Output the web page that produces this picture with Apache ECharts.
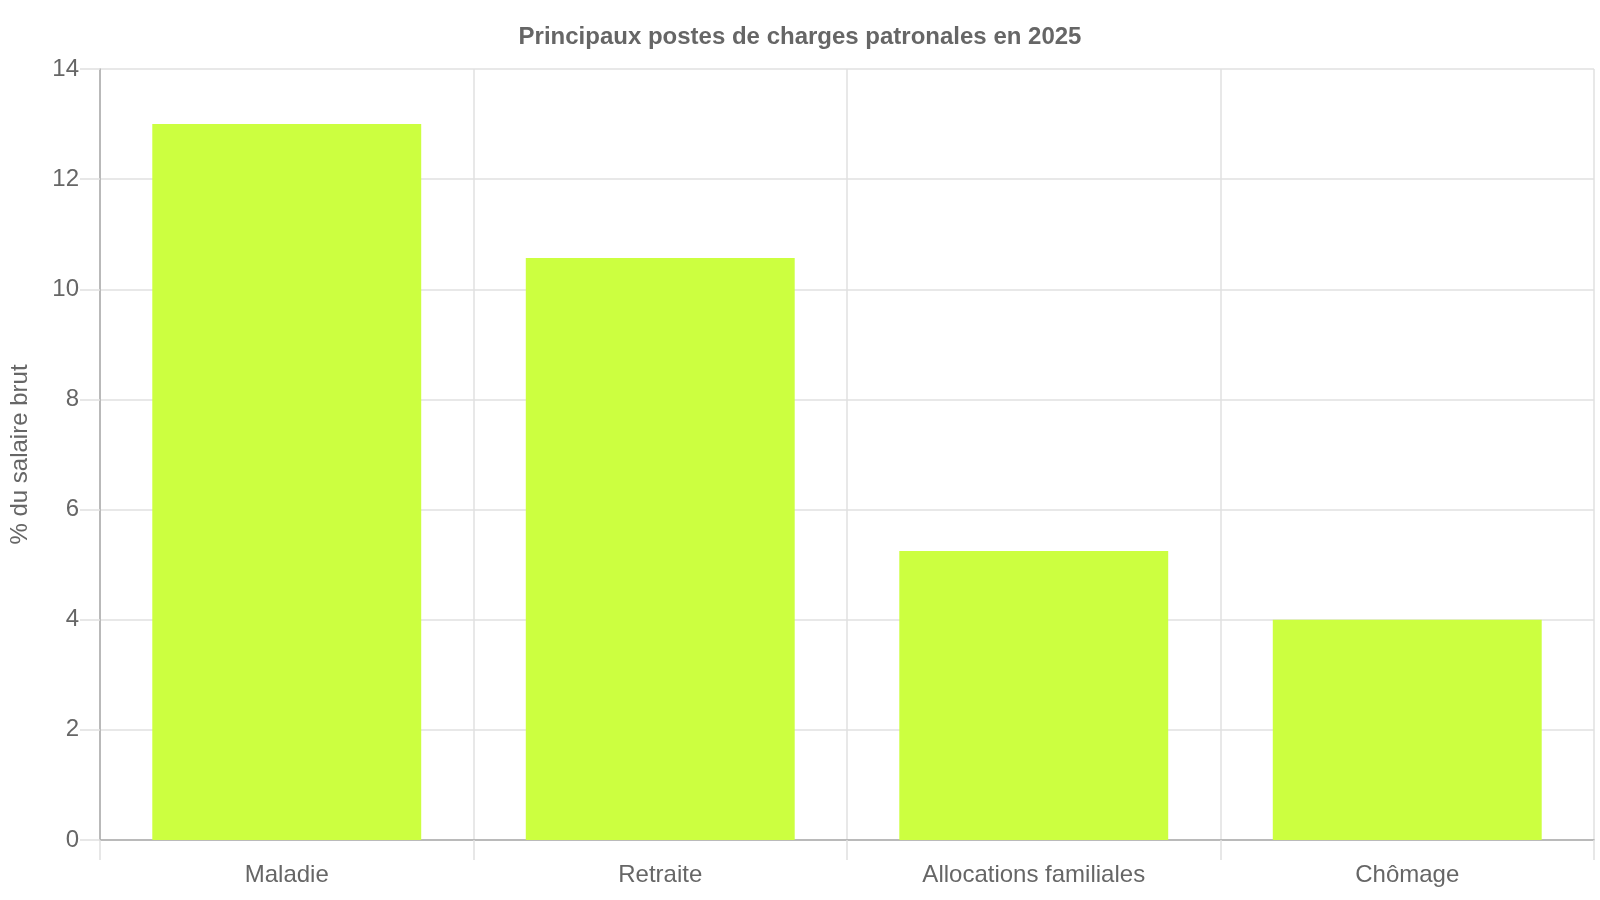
<!DOCTYPE html>
<html>
<head>
<meta charset="utf-8">
<style>
    html, body { margin: 0; padding: 0; background: #fff; }
    #main { width: 1600px; height: 900px; }
</style>
</head>
<body>
<div id="main"></div>
<script src="https://cdn.jsdelivr.net/npm/echarts@6/dist/echarts.min.js"></script>
<script type="text/javascript">
    // données
    var categories = ['Maladie', 'Retraite', 'Allocations familiales', 'Chômage'];
    var values = [13, 10.57, 5.25, 4];
    var yTicks = { min: 0, max: 14, interval: 2 };

    var myChart = echarts.init(document.getElementById('main'));
    var font = '"Liberation Sans", Arial, sans-serif';
    var option = {
        backgroundColor: '#fff',
        title: {
            text: 'Principaux postes de charges patronales en 2025',
            left: 'center',
            top: 20,
            textStyle: { color: '#666', fontSize: 24, fontWeight: 'bold', fontFamily: font }
        },
        grid: { left: 100, right: 6, top: 69, bottom: 60 },
        xAxis: {
            type: 'category',
            data: categories,
            axisLine: { lineStyle: { color: '#aaa', width: 1.5 } },
            axisTick: { show: true, length: 20, lineStyle: { color: '#e0e0e0', width: 1.5 } },
            splitLine: { show: true, lineStyle: { color: '#e0e0e0', width: 1.5 } },
            axisLabel: { color: '#666', fontSize: 24, fontFamily: font, margin: 23 }
        },
        yAxis: {
            type: 'value',
            min: yTicks.min,
            max: yTicks.max,
            interval: yTicks.interval,
            name: '% du salaire brut',
            nameLocation: 'middle',
            nameGap: 68,
            nameTextStyle: { color: '#666', fontSize: 24, fontFamily: font },
            axisLine: { show: true, lineStyle: { color: '#aaa', width: 1.5 } },
            axisTick: { show: true, length: 20, lineStyle: { color: '#e0e0e0', width: 1.5 } },
            splitLine: { show: true, lineStyle: { color: '#e0e0e0', width: 1.5 } },
            axisLabel: { color: '#666', fontSize: 24, fontFamily: font, margin: 21 }
        },
        series: [{
            name: '% du salaire brut',
            type: 'bar',
            data: values,
            barCategoryGap: '28%',
            itemStyle: { color: '#ccff40' }
        }]
    };
    myChart.setOption(option);
</script>
</body>
</html>
